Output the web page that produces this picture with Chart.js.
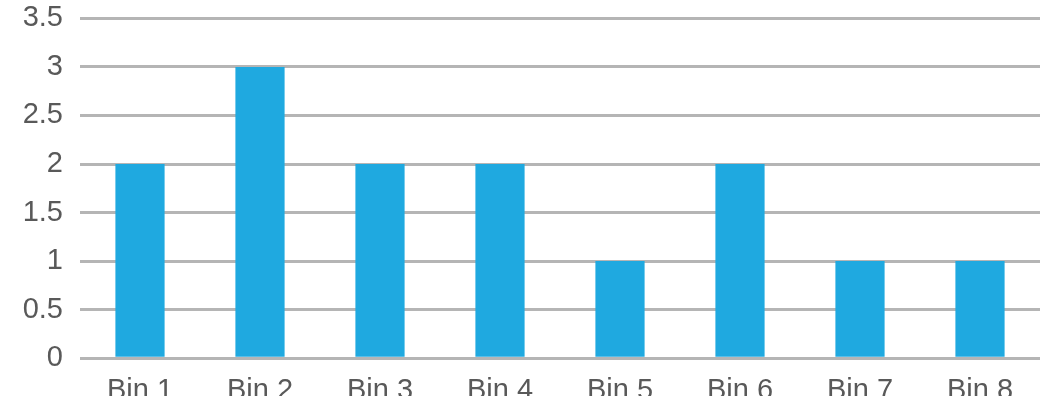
<!DOCTYPE html>
<html>
<head>
<meta charset="utf-8">
<script src="https://cdn.jsdelivr.net/npm/chart.js@4"></script>
<style>
  html, body { margin:0; padding:0; background:#fff; overflow:hidden; }
  #wrap { position:relative; width:1051px; height:431px; margin-top:-16px; }
</style>
</head>
<body>
<div id="wrap"><canvas id="chart"></canvas></div>
<script>
const bins = ['Bin 1','Bin 2','Bin 3','Bin 4','Bin 5','Bin 6','Bin 7','Bin 8'];
const counts = [2, 3, 2, 2, 1, 2, 1, 1];
const yMin = 0, yMax = 3.5, yStep = 0.5;

const font = { family: "'Liberation Sans', Arial, sans-serif", size: 29 };

new Chart(document.getElementById('chart'), {
  type: 'bar',
  data: { labels: bins, datasets: [{ data: counts, backgroundColor: '#1FA9E0', borderWidth: 0,
    categoryPercentage: 1, barPercentage: 0.41 }] },
  options: {
    responsive: true, maintainAspectRatio: false, animation: false,
    layout: { padding: { top: 5, right: 11, left: 0, bottom: 0 } },
    plugins: { legend: { display: false }, tooltip: { enabled: false } },
    scales: {
      x: {
        grid: { display: false }, border: { display: false },
        ticks: { color: '#595959', font, padding: 7 }
      },
      y: {
        min: yMin, max: yMax,
        afterFit: s => { s.width = 80; },
        grid: { color: '#b5b5b5', lineWidth: 3, drawTicks: false },
        border: { display: false },
        ticks: { stepSize: yStep, color: '#595959', font, padding: 17,
          callback: v => String(v) }
      }
    }
  }
});
</script>
</body>
</html>
